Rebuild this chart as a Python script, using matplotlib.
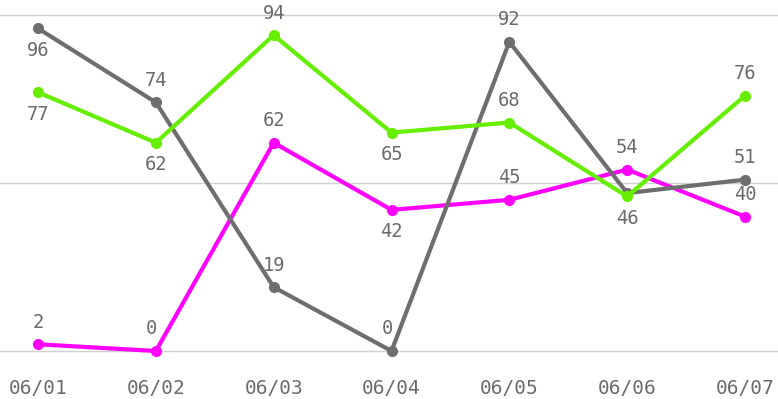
import numpy as np
import matplotlib
matplotlib.use('Agg')
import matplotlib.pyplot as plt

dates = ['06/01', '06/02', '06/03', '06/04', '06/05', '06/06', '06/07']
gray_vals = [96, 74, 19, 0, 92, 47, 51]
green_vals = [77, 62, 94, 65, 68, 46, 76]
pink_vals = [2, 0, 62, 42, 45, 54, 40]

# label placement per point: 1 above, -1 below, 0 hidden
gray_pos = [-1, 1, 1, 1, 1, 0, 1]
green_pos = [-1, -1, 1, -1, 1, -1, 1]
pink_pos = [1, 1, 1, -1, 1, 1, 1]

txt_col = '#6b6b6b'
plt.rcParams['font.family'] = ['DejaVu Sans Mono']

fig = plt.figure(figsize=(7.78, 3.99), dpi=100)
ax = fig.add_axes([0, 48/399, 1, 336/399])

x = np.arange(len(dates))
series = [
	(gray_vals, gray_pos, '#6e6e6e', 3),
	(green_vals, green_pos, '#66ee00', 4),
	(pink_vals, pink_pos, '#ff00ff', 2),
]
for vals, pos, col, z in series:
	ax.plot(x, vals, color=col, lw=3, marker='o', ms=7, zorder=z, solid_capstyle='round', clip_on=False)
	for xi, v, p in zip(x, vals, pos):
		if p == 0:
			continue
		dx = -4 if v == 0 else 0
		ax.annotate(str(v), (xi, v), xytext=(dx, 22*p), textcoords='offset pixels',
			ha='center', va='center', fontsize=13.5, color=txt_col, zorder=5)

ax.set_xlim(-38/117.8, 6 + 33/117.8)
ax.set_ylim(0, 100)
ax.set_yticks([0, 50, 100])
ax.grid(axis='y', color='#d0d0d0', lw=1)
for gl in ax.get_ygridlines():
	gl.set_clip_on(False)
ax.set_axisbelow(True)
ax.set_xticks(x)
ax.set_xticklabels(dates, fontsize=14, color=txt_col)
ax.tick_params(axis='x', length=0, pad=20)
ax.tick_params(axis='y', length=0, labelleft=False)
for s in ax.spines.values():
	s.set_visible(False)

fig.savefig('out.png', dpi=100)
